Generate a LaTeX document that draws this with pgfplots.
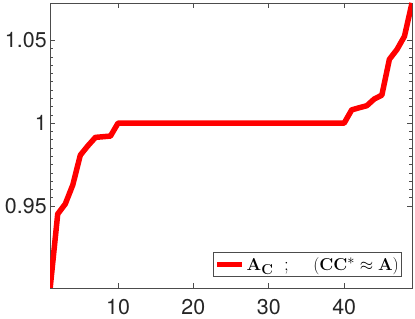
\documentclass[border=0pt]{standalone}
\usepackage[no-math]{fontspec}
\newfontfamily\tickfont{TeX Gyre Heros}
\usepackage{pgfplots}
\pgfplotsset{compat=1.18}
\definecolor{axgray}{rgb}{0.3,0.3,0.3}
\begin{document}
\begin{tikzpicture}
\begin{axis}[
  scale only axis, width=362bp, height=285bp,
  xmin=1, xmax=49, ymin=0.9006, ymax=1.0725,
  xtick={10,20,30,40}, xticklabels={10,20,30,40},
  ytick={0.95,1,1.05}, yticklabels={0.95,1,1.05},
  minor y tick num=9,
  tick align=inside,
  axis line style={draw=axgray, line width=0.6bp},
  every tick/.style={draw=axgray, line width=0.6bp},
  major tick length=5bp, minor tick length=3bp,
  ticklabel style={font=\tickfont\fontsize{21.5}{25}\selectfont, text=black!85},
  xticklabel style={yshift=-8bp},
  /pgf/number format/assume math mode=true,
  legend style={at={(1,0)}, anchor=south east, xshift=-10bp, yshift=11bp,
    draw=axgray, line width=0.6bp, font=\fontsize{18.9}{22}\selectfont,
    inner xsep=1bp, inner ysep=2.8bp},
  legend cell align=left,
  legend image code/.code={\draw[#1, line width=5bp] (0bp,0bp) -- (25bp,0bp);},
]
\addplot[red, line width=5.5bp, line join=round] coordinates {
(1,0.9006) (2,0.9452) (3,0.9512) (4,0.9627) (5,0.9807) (6,0.9863) (7,0.9914)
(8,0.9918) (9,0.9922) (10,1.0) (11,1.0) (12,1.0) (13,1.0) (14,1.0) (15,1.0)
(16,1.0) (17,1.0) (18,1.0) (19,1.0) (20,1.0) (21,1.0) (22,1.0) (23,1.0) (24,1.0)
(25,1.0) (26,1.0) (27,1.0) (28,1.0) (29,1.0) (30,1.0) (31,1.0) (32,1.0) (33,1.0)
(34,1.0) (35,1.0) (36,1.0) (37,1.0) (38,1.0) (39,1.0) (40,1.0)
(41,1.0080) (42,1.0093) (43,1.0105) (44,1.0146) (45,1.0169) (46,1.0385)
(47,1.0444) (48,1.0524) (49,1.0725)
};
\addlegendentry{$\mathbf{A_C}$\hspace{5bp} ; \quad $(\mathbf{CC}^*\approx\mathbf{A})$}
\end{axis}
\pgfresetboundingbox
\path (current axis.south west) ++(-50.2bp,-31bp) coordinate (bbA);
\path (current axis.north east) ++(3bp,3bp) coordinate (bbB);
\path[use as bounding box] (bbA) rectangle (bbB);
\end{tikzpicture}
\end{document}
